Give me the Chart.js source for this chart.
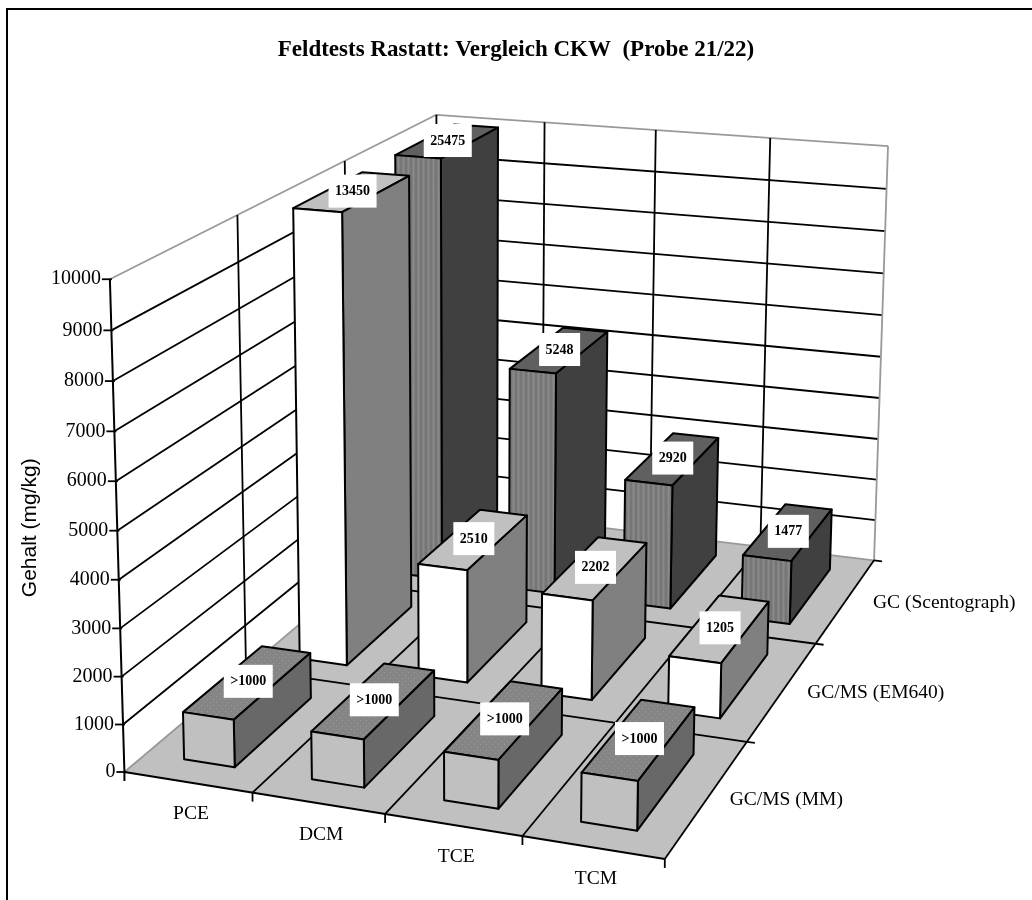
<!DOCTYPE html>
<html>
<head>
<meta charset="utf-8">
<title>Feldtests Rastatt</title>
<script src="https://cdn.jsdelivr.net/npm/chart.js@4"></script>
<style>
    body { margin: 0; background: #fff; }
    #wrap { position: relative; width: 1032px; height: 900px; }
</style>
</head>
<body>
<div id="wrap"><canvas id="chart"></canvas></div>
<script>
// Kategorien und Messreihen (vorn nach hinten)
const stoffe = ['PCE', 'DCM', 'TCE', 'TCM'];
const methoden = ['GC/MS (MM)', 'GC/MS (EM640)', 'GC (Scentograph)'];
const gcmsMM = [1000, 1000, 1000, 1000];
const gcmsEM640 = [13450, 2510, 2202, 1205];
const gcScentograph = [25475, 5248, 2920, 1477];
const beschriftungMM = ['>1000', '>1000', '>1000', '>1000'];
const yTicks = [0, 1000, 2000, 3000, 4000, 5000, 6000, 7000, 8000, 9000, 10000];

// Kamera: Passpunkte des Diagrammwuerfels [u, v, w, px, py]
const passpunkte = [
    [0, 0, 0, 125, 772], [1, 0, 0, 665, 858], [1, 1, 0, 873, 562],
    [0, 0, 1, 109, 279], [1, 1, 1, 888, 146], [0, 1, 1, 436, 113],
    [0, 0, 0.5, 118, 530], [1, 1, 0.5, 880, 354],
    [0.25, 0, 0, 252, 793], [0.5, 0, 0, 385, 813], [0.75, 0, 0, 522, 837],
    [1, 1 / 3, 0, 747, 743], [1, 2 / 3, 0, 817, 643],
    [0.25, 1, 1, 545, 122], [0.5, 1, 1, 656, 131], [0.75, 1, 1, 771, 139],
    [0, 1 / 3, 1, 237, 215], [0, 2 / 3, 1, 345, 163]
];

// Projektionsmatrix per kleinste Quadrate (DLT)
function loeseKamera(punkte) {
    const n = 11;
    const M = Array.from({ length: n }, () => new Array(n + 1).fill(0));
    const addRow = (row, b) => {
        for (let i = 0; i < n; i++) {
            for (let j = 0; j < n; j++) M[i][j] += row[i] * row[j];
            M[i][n] += row[i] * b;
        }
    };
    punkte.forEach(([u, v, w, x, y]) => {
        addRow([u, v, w, 1, 0, 0, 0, 0, -x * u, -x * v, -x * w], x);
        addRow([0, 0, 0, 0, u, v, w, 1, -y * u, -y * v, -y * w], y);
    });
    for (let c = 0; c < n; c++) {
        let best = c;
        for (let r = c + 1; r < n; r++) if (Math.abs(M[r][c]) > Math.abs(M[best][c])) best = r;
        [M[c], M[best]] = [M[best], M[c]];
        for (let r = 0; r < n; r++) {
            if (r === c) continue;
            const f = M[r][c] / M[c][c];
            for (let k = c; k <= n; k++) M[r][k] -= f * M[c][k];
        }
    }
    return M.map((row, i) => row[n] / row[i]);
}
const P = loeseKamera(passpunkte);

function proj(u, v, w) {
    const d = P[8] * u + P[9] * v + P[10] * w + 1;
    return {
        x: (P[0] * u + P[1] * v + P[2] * w + P[3]) / d,
        y: (P[4] * u + P[5] * v + P[6] * w + P[7]) / d
    };
}

// Raster fuer die gemusterten Flaechen
function muster(basis, zeichne, w, h) {
    const c = document.createElement('canvas');
    c.width = w;
    c.height = h;
    const g = c.getContext('2d');
    g.fillStyle = basis;
    g.fillRect(0, 0, w, h);
    zeichne(g);
    return g.createPattern(c, 'repeat');
}
const punktMuster = muster('#858585', g => {
    g.fillStyle = '#9a9a9a';
    g.fillRect(0, 0, 1, 1);
    g.fillRect(3, 3, 1, 1);
}, 6, 6);
const streifenMuster = muster('#808080', g => {
    g.fillStyle = '#767676';
    g.fillRect(0, 0, 2, 4);
    g.fillStyle = '#8a8a8a';
    g.fillRect(3, 0, 1, 4);
}, 5, 4);

// Flaechenfarben je Reihe
const frontFarben = ['#c0c0c0', '#ffffff', streifenMuster];
const seitenFarben = ['#686868', '#808080', '#404040'];
const deckFarben = [punktMuster, '#c0c0c0', '#606060'];

const balkenBreite = 0.4;
const balkenTiefe = 0.66;

const szene = {
    id: 'szene',
    beforeDraw(chart) {
        const ctx = chart.ctx;
        ctx.save();
        ctx.fillStyle = '#fff';
        ctx.fillRect(0, 0, chart.width, chart.height);
        // Rahmen nur oben und links
        ctx.strokeStyle = '#000';
        ctx.lineWidth = 2;
        ctx.beginPath();
        ctx.moveTo(chart.width, 9);
        ctx.lineTo(7, 9);
        ctx.lineTo(7, chart.height);
        ctx.stroke();
        ctx.restore();
    },
    beforeDatasetsDraw(chart) {
        const ctx = chart.ctx;
        const { x: xs, y: ys, z: zs } = chart.scales;

        // Normierte Wuerfelkoordinaten aus den Achsen
        const uOf = i => (xs.getPixelForValue(i) - xs.left) / xs.width;
        const vOf = i => (zs.getPixelForValue(i) - zs.left) / zs.width;
        const wOf = val => (ys.bottom - ys.getPixelForValue(Math.min(val, ys.max))) / ys.height;
        const uBand = 1 / xs.getLabels().length;
        const vBand = 1 / zs.getLabels().length;

        const poly = (pts, fill, stroke, lw) => {
            ctx.beginPath();
            pts.forEach((p, i) => (i ? ctx.lineTo(p.x, p.y) : ctx.moveTo(p.x, p.y)));
            ctx.closePath();
            if (fill) {
                ctx.fillStyle = fill;
                ctx.fill();
            }
            if (stroke) {
                ctx.strokeStyle = stroke;
                ctx.lineWidth = lw;
                ctx.stroke();
            }
        };
        const line = (a, b, color, lw) => {
            ctx.beginPath();
            ctx.moveTo(a.x, a.y);
            ctx.lineTo(b.x, b.y);
            ctx.strokeStyle = color;
            ctx.lineWidth = lw;
            ctx.stroke();
        };

        ctx.save();
        ctx.lineJoin = 'round';

        // Boden
        poly([proj(0, 0, 0), proj(1, 0, 0), proj(1, 1, 0), proj(0, 1, 0)], '#c0c0c0');

        // Gitter der Rueckwand und der linken Wand
        yTicks.forEach(t => {
            if (t === 0) return;
            const w = wOf(t);
            const farbe = t === ys.max ? '#999999' : '#000';
            line(proj(0, 0, w), proj(0, 1, w), farbe, 1.8);
            line(proj(0, 1, w), proj(1, 1, w), farbe, 1.8);
        });
        for (let i = 1; i < stoffe.length; i++) {
            line(proj(i * uBand, 1, 0), proj(i * uBand, 1, 1), '#000', 1.8);
        }
        for (let i = 1; i < methoden.length; i++) {
            line(proj(0, i * vBand, 0), proj(0, i * vBand, 1), '#000', 1.8);
        }
        line(proj(0, 1, 0), proj(0, 1, 1), '#000', 1.8);
        line(proj(1, 1, 0), proj(1, 1, 1), '#999999', 1.8);

        // Bodenraster und Kanten
        line(proj(0, 0, 0), proj(0, 1, 0), '#999999', 1.8);
        line(proj(0, 1, 0), proj(1, 1, 0), '#999999', 1.8);
        for (let i = 1; i < stoffe.length; i++) {
            line(proj(i * uBand, 0, 0), proj(i * uBand, 1, 0), '#000', 1.8);
        }
        for (let i = 1; i < methoden.length; i++) {
            line(proj(0, i * vBand, 0), proj(1, i * vBand, 0), '#000', 1.8);
        }
        line(proj(0, 0, 0), proj(1, 0, 0), '#000', 2);
        line(proj(1, 0, 0), proj(1, 1, 0), '#000', 1.8);

        // Hauptachse mit Strichen
        line(proj(0, 0, 0), proj(0, 0, 1), '#000', 2);
        const fuss = proj(0, 0, 0);
        line(fuss, { x: fuss.x, y: fuss.y + 9 }, '#000', 2);

        ctx.font = '20px "Liberation Serif"';
        ctx.textAlign = 'right';
        ctx.textBaseline = 'middle';
        yTicks.forEach(t => {
            const p = proj(0, 0, wOf(t));
            line({ x: p.x - 8, y: p.y }, { x: p.x + 2, y: p.y }, '#000', 1.8);
            ctx.fillStyle = '#000';
            ctx.fillText(String(t), p.x - 9, p.y);
        });

        // Striche und Beschriftung am Boden
        ctx.font = '19.5px "Liberation Serif"';
        ctx.textAlign = 'center';
        for (let i = 1; i <= stoffe.length; i++) {
            const p = proj(i * uBand, 0, 0);
            line(p, { x: p.x, y: p.y + 9 }, '#000', 1.8);
        }
        stoffe.forEach((name, i) => {
            const p = proj(uOf(i), 0, 0);
            ctx.fillStyle = '#000';
            ctx.fillText(name, p.x + 3, p.y + 32);
        });
        ctx.textAlign = 'left';
        for (let i = 1; i <= methoden.length; i++) {
            const p = proj(1, i * vBand, 0);
            line(p, { x: p.x + 8, y: p.y + 1 }, '#000', 1.8);
        }
        methoden.forEach((name, i) => {
            const p = proj(1, vOf(i), 0);
            ctx.fillStyle = '#000';
            ctx.fillText(name, p.x + 22 + i * 2.5, p.y + 2.5);
        });

        // Balken von hinten nach vorn
        const mitten = [];
        chart.data.datasets.slice().reverse().forEach(ds => {
            const reihe = chart.data.datasets.indexOf(ds);
            const v = vOf(reihe);
            const v0 = v - balkenTiefe * vBand / 2;
            const v1 = v + balkenTiefe * vBand / 2;
            ds.data.forEach((wert, i) => {
                const u = uOf(i);
                const u0 = u - balkenBreite * uBand / 2;
                const u1 = u + balkenBreite * uBand / 2;
                const w = wOf(wert);
                poly([proj(u0, v0, w), proj(u1, v0, w), proj(u1, v1, w), proj(u0, v1, w)], deckFarben[reihe], '#000', 2);
                poly([proj(u1, v0, 0), proj(u1, v1, 0), proj(u1, v1, w), proj(u1, v0, w)], seitenFarben[reihe], '#000', 2);
                poly([proj(u0, v0, 0), proj(u1, v0, 0), proj(u1, v0, w), proj(u0, v0, w)], frontFarben[reihe], '#000', 2);
                mitten.push({ p: proj(u, v, w), text: ds.labelTexte ? ds.labelTexte[i] : String(wert) });
            });
        });

        // Wertefelder auf den Deckflaechen
        ctx.font = 'bold 14px "Liberation Serif"';
        ctx.textAlign = 'center';
        ctx.textBaseline = 'middle';
        mitten.forEach(({ p, text }) => {
            const b = ctx.measureText(text).width + 13;
            ctx.fillStyle = '#fff';
            ctx.fillRect(p.x - b / 2, p.y - 17, b, 33);
            ctx.fillStyle = '#000';
            ctx.fillText(text, p.x, p.y);
        });

        ctx.restore();
        return false;
    }
};

new Chart(document.getElementById('chart'), {
    type: 'bar',
    data: {
        labels: stoffe,
        datasets: [
            { label: methoden[0], data: gcmsMM, labelTexte: beschriftungMM },
            { label: methoden[1], data: gcmsEM640 },
            { label: methoden[2], data: gcScentograph }
        ]
    },
    options: {
        responsive: true,
        maintainAspectRatio: false,
        animation: false,
        layout: { padding: { left: 0, right: 0, top: 0, bottom: 122 } },
        scales: {
            x: { display: false, offset: true },
            z: { type: 'category', axis: 'x', position: 'bottom', display: false, offset: true, labels: methoden },
            y: {
                min: 0,
                max: 10000,
                grid: { display: false },
                border: { display: false },
                ticks: { display: false, stepSize: 1000 },
                title: {
                    display: true,
                    text: 'Gehalt (mg/kg)',
                    color: '#000',
                    padding: { top: 18, bottom: 0 },
                    font: { family: '"Liberation Sans"', size: 21, weight: 'normal' }
                }
            }
        },
        plugins: {
            legend: { display: false },
            tooltip: { enabled: false },
            title: {
                display: true,
                text: 'Feldtests Rastatt: Vergleich CKW  (Probe 21/22)',
                color: '#000',
                padding: { top: 37, bottom: 214 },
                font: { family: '"Liberation Serif"', size: 23, weight: 'bold', lineHeight: 1.15 }
            }
        }
    },
    plugins: [szene]
});
</script>
</body>
</html>
